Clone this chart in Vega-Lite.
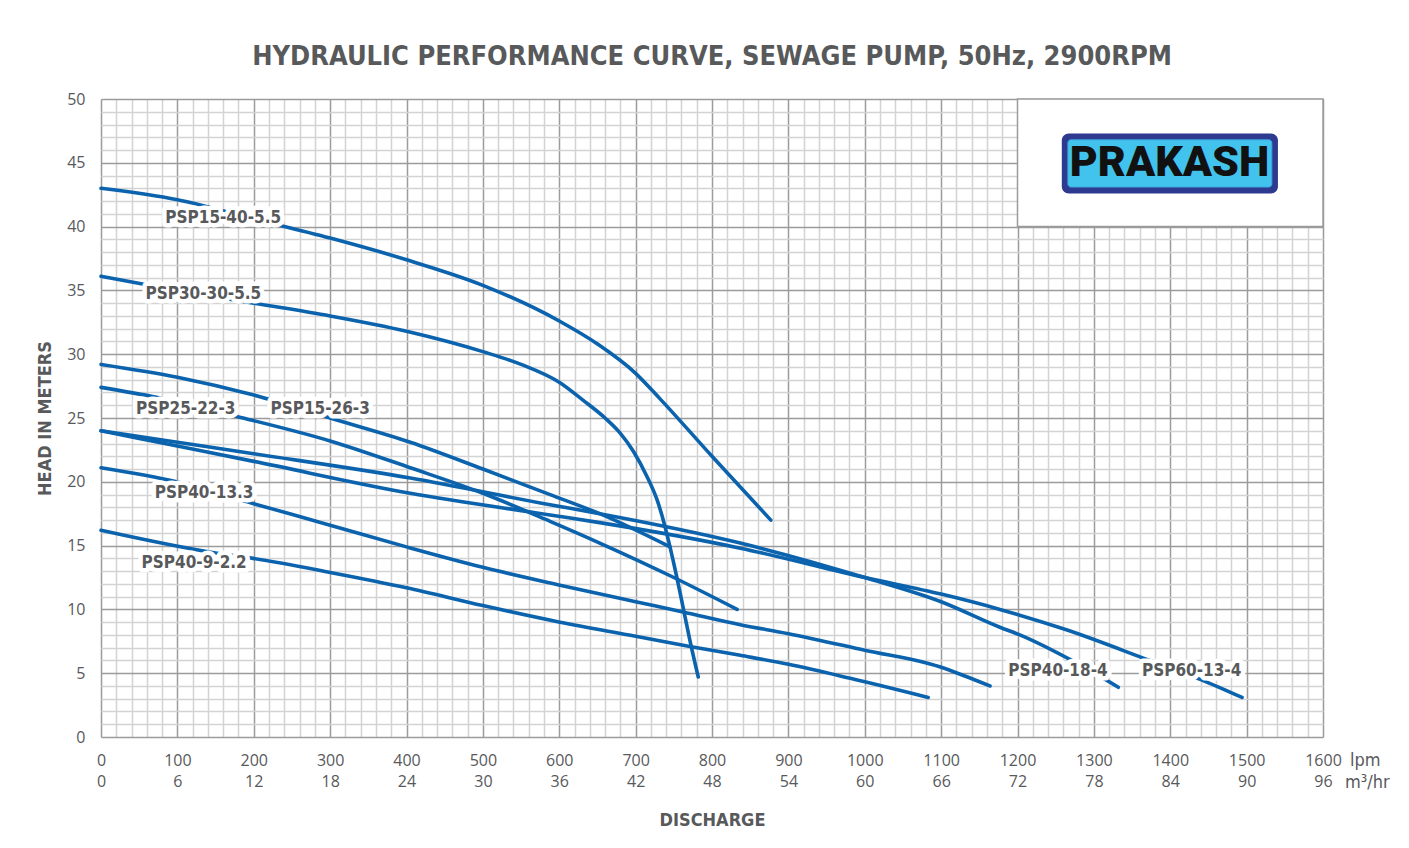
{
  "$schema": "https://vega.github.io/schema/vega-lite/v6.json",
  "width": 1222,
  "height": 638,
  "autosize": {"type": "none"},
  "padding": {"left": 101, "top": 99, "right": 86, "bottom": 111},
  "background": "white",
  "title": {
    "text": "HYDRAULIC PERFORMANCE CURVE, SEWAGE PUMP, 50Hz, 2900RPM",
    "font": "Liberation Sans Narrow, DejaVu Sans Condensed, Roboto Condensed, Roboto",
    "fontSize": 27,
    "fontWeight": "bold",
    "color": "#58595b",
    "anchor": "middle",
    "offset": 20
  },
  "config": {
    "view": {"stroke": null},
    "axis": {
      "labelFont": "Open Sans",
      "labelFontSize": 16,
      "labelColor": "#58595b",
      "titleFont": "Liberation Sans Narrow, DejaVu Sans Condensed, Roboto Condensed, Roboto",
      "titleFontSize": 18,
      "titleFontWeight": "bold",
      "titleColor": "#58595b"
    }
  },
  "datasets": {
    "curves": [
      {"series": "PSP15-40-5.5", "q": 0, "h": 43.0},
      {"series": "PSP15-40-5.5", "q": 100, "h": 42.1},
      {"series": "PSP15-40-5.5", "q": 200, "h": 40.6},
      {"series": "PSP15-40-5.5", "q": 300, "h": 39.1},
      {"series": "PSP15-40-5.5", "q": 400, "h": 37.4},
      {"series": "PSP15-40-5.5", "q": 500, "h": 35.4},
      {"series": "PSP15-40-5.5", "q": 600, "h": 32.6},
      {"series": "PSP15-40-5.5", "q": 650, "h": 30.8},
      {"series": "PSP15-40-5.5", "q": 700, "h": 28.5},
      {"series": "PSP15-40-5.5", "q": 732, "h": 26.5},
      {"series": "PSP15-40-5.5", "q": 800, "h": 22.0},
      {"series": "PSP15-40-5.5", "q": 877, "h": 17.0},
      {"series": "PSP30-30-5.5", "q": 0, "h": 36.1},
      {"series": "PSP30-30-5.5", "q": 100, "h": 35.0},
      {"series": "PSP30-30-5.5", "q": 200, "h": 34.0},
      {"series": "PSP30-30-5.5", "q": 300, "h": 33.0},
      {"series": "PSP30-30-5.5", "q": 400, "h": 31.8},
      {"series": "PSP30-30-5.5", "q": 500, "h": 30.2},
      {"series": "PSP30-30-5.5", "q": 550, "h": 29.2},
      {"series": "PSP30-30-5.5", "q": 600, "h": 27.8},
      {"series": "PSP30-30-5.5", "q": 631, "h": 26.4},
      {"series": "PSP30-30-5.5", "q": 660, "h": 25.0},
      {"series": "PSP30-30-5.5", "q": 680, "h": 23.8},
      {"series": "PSP30-30-5.5", "q": 697, "h": 22.4},
      {"series": "PSP30-30-5.5", "q": 715, "h": 20.4},
      {"series": "PSP30-30-5.5", "q": 728, "h": 18.6},
      {"series": "PSP30-30-5.5", "q": 738, "h": 16.6},
      {"series": "PSP30-30-5.5", "q": 745, "h": 14.9},
      {"series": "PSP30-30-5.5", "q": 754, "h": 12.5},
      {"series": "PSP30-30-5.5", "q": 762, "h": 10.2},
      {"series": "PSP30-30-5.5", "q": 771, "h": 7.6},
      {"series": "PSP30-30-5.5", "q": 782, "h": 4.7},
      {"series": "PSP15-26-3", "q": 0, "h": 29.2},
      {"series": "PSP15-26-3", "q": 100, "h": 28.2},
      {"series": "PSP15-26-3", "q": 200, "h": 26.8},
      {"series": "PSP15-26-3", "q": 300, "h": 25.0},
      {"series": "PSP15-26-3", "q": 405, "h": 23.1},
      {"series": "PSP15-26-3", "q": 500, "h": 21.0},
      {"series": "PSP15-26-3", "q": 588, "h": 19.0},
      {"series": "PSP15-26-3", "q": 653, "h": 17.5},
      {"series": "PSP15-26-3", "q": 745, "h": 14.9},
      {"series": "PSP25-22-3", "q": 0, "h": 27.4},
      {"series": "PSP25-22-3", "q": 74, "h": 26.6},
      {"series": "PSP25-22-3", "q": 179, "h": 25.1},
      {"series": "PSP25-22-3", "q": 300, "h": 23.2},
      {"series": "PSP25-22-3", "q": 405, "h": 21.1},
      {"series": "PSP25-22-3", "q": 500, "h": 19.1},
      {"series": "PSP25-22-3", "q": 588, "h": 16.9},
      {"series": "PSP25-22-3", "q": 653, "h": 15.2},
      {"series": "PSP25-22-3", "q": 750, "h": 12.5},
      {"series": "PSP25-22-3", "q": 833, "h": 10.0},
      {"series": "PSP40-18-4", "q": 0, "h": 24.0},
      {"series": "PSP40-18-4", "q": 100, "h": 23.1},
      {"series": "PSP40-18-4", "q": 200, "h": 22.2},
      {"series": "PSP40-18-4", "q": 405, "h": 20.3},
      {"series": "PSP40-18-4", "q": 588, "h": 18.2},
      {"series": "PSP40-18-4", "q": 653, "h": 17.5},
      {"series": "PSP40-18-4", "q": 837, "h": 15.2},
      {"series": "PSP40-18-4", "q": 1000, "h": 12.5},
      {"series": "PSP40-18-4", "q": 1100, "h": 10.6},
      {"series": "PSP40-18-4", "q": 1177, "h": 8.6},
      {"series": "PSP40-18-4", "q": 1203, "h": 8.0},
      {"series": "PSP40-18-4", "q": 1271, "h": 6.0},
      {"series": "PSP40-18-4", "q": 1332, "h": 3.9},
      {"series": "PSP60-13-4", "q": 0, "h": 24.0},
      {"series": "PSP60-13-4", "q": 100, "h": 22.8},
      {"series": "PSP60-13-4", "q": 200, "h": 21.6},
      {"series": "PSP60-13-4", "q": 405, "h": 19.1},
      {"series": "PSP60-13-4", "q": 588, "h": 17.4},
      {"series": "PSP60-13-4", "q": 653, "h": 16.8},
      {"series": "PSP60-13-4", "q": 837, "h": 14.8},
      {"series": "PSP60-13-4", "q": 1000, "h": 12.5},
      {"series": "PSP60-13-4", "q": 1100, "h": 11.2},
      {"series": "PSP60-13-4", "q": 1177, "h": 10.0},
      {"series": "PSP60-13-4", "q": 1264, "h": 8.4},
      {"series": "PSP60-13-4", "q": 1373, "h": 6.0},
      {"series": "PSP60-13-4", "q": 1440, "h": 4.5},
      {"series": "PSP60-13-4", "q": 1494, "h": 3.1},
      {"series": "PSP40-13.3", "q": 0, "h": 21.1},
      {"series": "PSP40-13.3", "q": 99, "h": 20.0},
      {"series": "PSP40-13.3", "q": 199, "h": 18.3},
      {"series": "PSP40-13.3", "q": 300, "h": 16.6},
      {"series": "PSP40-13.3", "q": 400, "h": 14.9},
      {"series": "PSP40-13.3", "q": 500, "h": 13.3},
      {"series": "PSP40-13.3", "q": 601, "h": 11.9},
      {"series": "PSP40-13.3", "q": 700, "h": 10.6},
      {"series": "PSP40-13.3", "q": 762, "h": 9.8},
      {"series": "PSP40-13.3", "q": 837, "h": 8.8},
      {"series": "PSP40-13.3", "q": 900, "h": 8.1},
      {"series": "PSP40-13.3", "q": 1000, "h": 6.8},
      {"series": "PSP40-13.3", "q": 1098, "h": 5.5},
      {"series": "PSP40-13.3", "q": 1130, "h": 4.8},
      {"series": "PSP40-13.3", "q": 1164, "h": 4.0},
      {"series": "PSP40-9-2.2", "q": 0, "h": 16.2},
      {"series": "PSP40-9-2.2", "q": 152, "h": 14.4},
      {"series": "PSP40-9-2.2", "q": 199, "h": 14.0},
      {"series": "PSP40-9-2.2", "q": 300, "h": 12.9},
      {"series": "PSP40-9-2.2", "q": 400, "h": 11.7},
      {"series": "PSP40-9-2.2", "q": 500, "h": 10.3},
      {"series": "PSP40-9-2.2", "q": 601, "h": 9.0},
      {"series": "PSP40-9-2.2", "q": 700, "h": 7.9},
      {"series": "PSP40-9-2.2", "q": 771, "h": 7.1},
      {"series": "PSP40-9-2.2", "q": 837, "h": 6.4},
      {"series": "PSP40-9-2.2", "q": 900, "h": 5.7},
      {"series": "PSP40-9-2.2", "q": 981, "h": 4.6},
      {"series": "PSP40-9-2.2", "q": 1083, "h": 3.1}
    ],
    "labels": [
      {"label": "PSP15-40-5.5", "q": 160, "h": 40.7},
      {"label": "PSP30-30-5.5", "q": 134, "h": 34.7},
      {"label": "PSP25-22-3", "q": 111, "h": 25.7},
      {"label": "PSP15-26-3", "q": 287, "h": 25.7},
      {"label": "PSP40-13.3", "q": 135, "h": 19.1},
      {"label": "PSP40-9-2.2", "q": 122, "h": 13.6},
      {"label": "PSP40-18-4", "q": 1253, "h": 5.2},
      {"label": "PSP60-13-4", "q": 1428, "h": 5.2}
    ]
  },
  "layer": [
    {
      "data": {"name": "curves"},
      "mark": {"type": "line", "interpolate": "monotone", "color": "#0b63ae", "strokeWidth": 3.6, "strokeCap": "round"},
      "encoding": {
        "x": {
          "field": "q", "type": "quantitative",
          "scale": {"domain": [0, 1600], "nice": false, "zero": true},
          "axis": {
            "title": "DISCHARGE",
            "tickCount": 200,
            "values": [0,20,40,60,80,100,120,140,160,180,200,220,240,260,280,300,320,340,360,380,400,420,440,460,480,500,520,540,560,580,600,620,640,660,680,700,720,740,760,780,800,820,840,860,880,900,920,940,960,980,1000,1020,1040,1060,1080,1100,1120,1140,1160,1180,1200,1220,1240,1260,1280,1300,1320,1340,1360,1380,1400,1420,1440,1460,1480,1500,1520,1540,1560,1580,1600],
            "grid": true,
            "gridColor": {"condition": {"test": "datum.value % 100 === 0", "value": "#9b9b9b"}, "value": "#d3d3d3"},
            "gridWidth": 1.5,
            "ticks": false,
            "domain": false,
            "labelExpr": "datum.value % 100 === 0 ? [format(datum.value, 'd'), format(datum.value * 0.06, 'd')] : ''",
            "labelOverlap": false,
            "labelFlush": false,
            "labelPadding": 15,
            "labelLineHeight": 21,
            "titlePadding": 22
          }
        },
        "y": {
          "field": "h", "type": "quantitative",
          "scale": {"domain": [0, 50], "nice": false},
          "axis": {
            "title": "HEAD IN METERS",
            "tickCount": 200,
            "values": [0,1,2,3,4,5,6,7,8,9,10,11,12,13,14,15,16,17,18,19,20,21,22,23,24,25,26,27,28,29,30,31,32,33,34,35,36,37,38,39,40,41,42,43,44,45,46,47,48,49,50],
            "grid": true,
            "gridColor": {"condition": {"test": "datum.value % 5 === 0", "value": "#9b9b9b"}, "value": "#d3d3d3"},
            "gridWidth": 1.5,
            "ticks": false,
            "domain": false,
            "labelExpr": "datum.value % 5 === 0 ? format(datum.value, 'd') : ''",
            "labelOverlap": false,
            "labelFlush": false,
            "labelPadding": 16,
            "titlePadding": 12
          }
        },
        "detail": {"field": "series"}
      }
    },
    {
      "data": {"name": "labels"},
      "mark": {"type": "text", "font": "Liberation Sans Narrow, DejaVu Sans Condensed, Roboto Condensed, Roboto", "fontSize": 17, "fontWeight": "bold", "stroke": "white", "strokeWidth": 9, "strokeJoin": "round", "fill": "white", "align": "center", "baseline": "middle"},
      "encoding": {
        "x": {"field": "q", "type": "quantitative"},
        "y": {"field": "h", "type": "quantitative"},
        "text": {"field": "label"}
      }
    },
    {
      "data": {"name": "labels"},
      "mark": {"type": "text", "font": "Liberation Sans Narrow, DejaVu Sans Condensed, Roboto Condensed, Roboto", "fontSize": 17, "fontWeight": "bold", "fill": "#58595b", "align": "center", "baseline": "middle"},
      "encoding": {
        "x": {"field": "q", "type": "quantitative"},
        "y": {"field": "h", "type": "quantitative"},
        "text": {"field": "label"}
      }
    },
    {
      "data": {"values": [{}]},
      "mark": {"type": "rect", "fill": "white", "stroke": "#9b9b9b", "strokeWidth": 1.5},
      "encoding": {
        "x": {"datum": 1200, "type": "quantitative"},
        "x2": {"datum": 1600},
        "y": {"datum": 40, "type": "quantitative"},
        "y2": {"datum": 50}
      }
    },
    {
      "data": {"values": [{}]},
      "mark": {"type": "rect", "fill": "#2e3a8f", "cornerRadius": 7},
      "encoding": {
        "x": {"datum": 1258, "type": "quantitative"},
        "x2": {"datum": 1541},
        "y": {"datum": 42.6, "type": "quantitative"},
        "y2": {"datum": 47.3}
      }
    },
    {
      "data": {"values": [{}]},
      "mark": {"type": "rect", "fill": "#42c3ee", "stroke": "#3aa6dc", "strokeWidth": 1, "cornerRadius": 3},
      "encoding": {
        "x": {"datum": 1266, "type": "quantitative"},
        "x2": {"datum": 1533},
        "y": {"datum": 43.1, "type": "quantitative"},
        "y2": {"datum": 46.8}
      }
    },
    {
      "data": {"values": [{"brand": "PRAKASH"}]},
      "mark": {"type": "text", "font": "Roboto", "fontSize": 43, "fontWeight": 900, "fill": "#111111", "align": "center", "baseline": "middle"},
      "encoding": {
        "x": {"datum": 1399, "type": "quantitative"},
        "y": {"datum": 45.0, "type": "quantitative"},
        "text": {"field": "brand"}
      }
    },
    {
      "data": {"values": [{"unit": "lpm"}]},
      "mark": {"type": "text", "font": "Liberation Sans Narrow, DejaVu Sans Condensed, Roboto Condensed, Roboto", "fontSize": 18, "fill": "#58595b", "align": "left", "baseline": "middle", "dx": 27, "dy": 24},
      "encoding": {
        "x": {"datum": 1600, "type": "quantitative"},
        "y": {"datum": 0, "type": "quantitative"},
        "text": {"field": "unit"}
      }
    },
    {
      "data": {"values": [{"unit": "m³/hr"}]},
      "mark": {"type": "text", "font": "Liberation Sans Narrow, DejaVu Sans Condensed, Roboto Condensed, Roboto", "fontSize": 18, "fill": "#58595b", "align": "left", "baseline": "middle", "dx": 22, "dy": 46},
      "encoding": {
        "x": {"datum": 1600, "type": "quantitative"},
        "y": {"datum": 0, "type": "quantitative"},
        "text": {"field": "unit"}
      }
    }
  ]
}
